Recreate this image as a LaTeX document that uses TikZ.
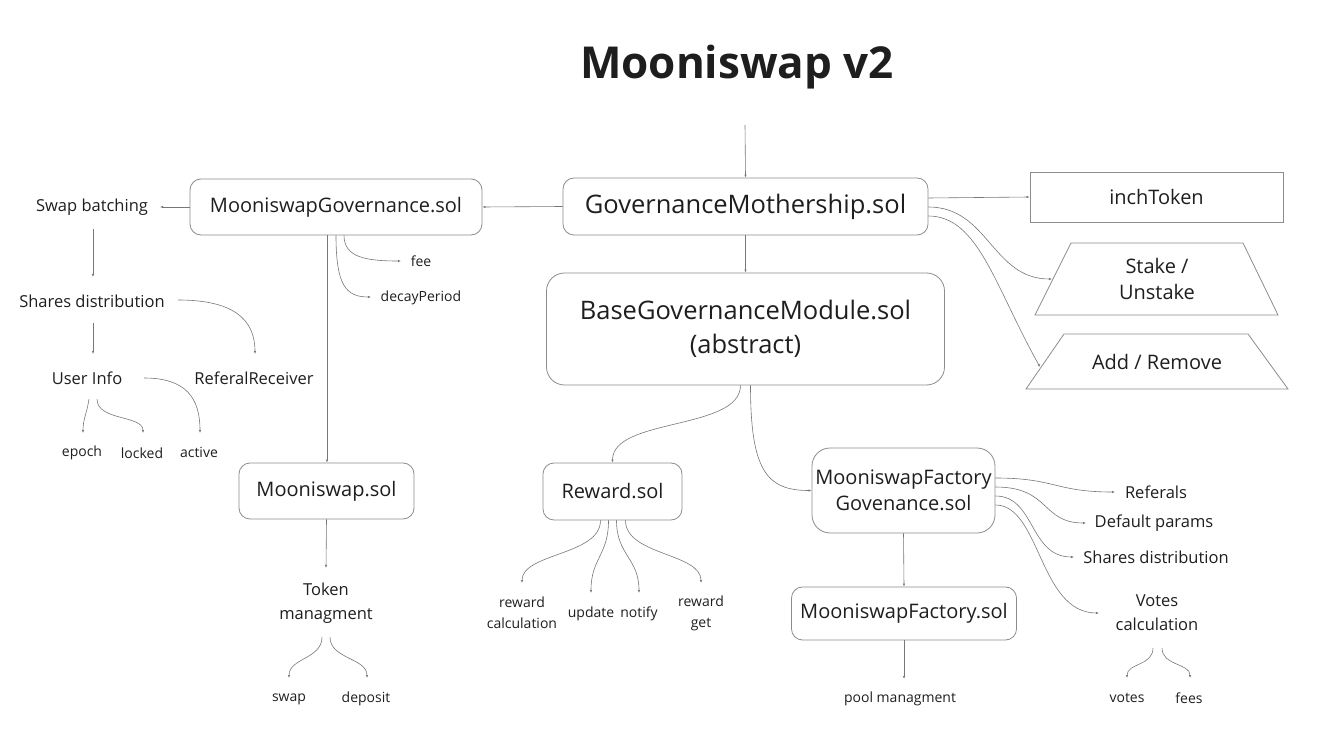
\documentclass[tikz,border=0pt]{standalone}
\usepackage{fontspec}
\setmainfont{Open Sans}
\usetikzlibrary{calc,arrows.meta}
\definecolor{ink}{HTML}{1E1E1E}
\definecolor{wire}{HTML}{777777}
\definecolor{frame}{HTML}{8C8C8C}
\def\titlefont{\fontsize{44}{54}\selectfont\bfseries}
\def\hugefont{\fontsize{25.5}{34}\selectfont}
\def\boxfont{\fontsize{20}{26.5}\selectfont}
\def\midfont{\fontsize{16.5}{24}\selectfont}
\def\leaffont{\fontsize{14}{21}\selectfont}
\tikzset{
	box/.style={draw=frame, line width=0.8pt, rounded corners=11pt, inner sep=0pt, text=ink, align=center},
	lbl/.style={inner sep=0pt, text=ink, align=center},
	trap/.style={draw=frame, line width=0.8pt},
	arr/.style={draw=wire, line width=0.6pt, -{Latex[length=3pt,width=2.4pt]}}
}
\begin{document}
\begin{tikzpicture}[x=1pt,y=-1pt]
			%%%%% START %%%%%
			\useasboundingbox (0,0) rectangle (1330,751);
			
			\node[lbl, font=\titlefont] (title) at (737, 67) {Mooniswap v2};
			\coordinate (top) at (745, 125);
			
			% main contracts
			\node[box, font=\hugefont, minimum width=365, minimum height=57] (gm) at (745.5, 206.5) {GovernanceMothership.sol};
			\node[box, font=\boxfont, minimum width=292, minimum height=56] (mg) at (336, 207) {MooniswapGovernance.sol};
			\node[box, font=\hugefont, minimum width=398, minimum height=112, rounded corners=18pt] (bg) at (745.5, 329) {BaseGovernanceModule.sol\\(abstract)};
			\node[box, font=\boxfont, minimum width=175, minimum height=56] (ms) at (326.5, 491) {Mooniswap.sol};
			\node[box, font=\boxfont, minimum width=139, minimum height=57] (rw) at (612.5, 491.5) {Reward.sol};
			\node[box, font=\boxfont, minimum width=183, minimum height=85, rounded corners=18pt] (mfg) at (903.5, 490.5) {MooniswapFactory\\Govenance.sol};
			\node[box, font=\boxfont, minimum width=225, minimum height=53] (mf) at (904, 613.5) {MooniswapFactory.sol};
			
			\node[box, font=\boxfont, rounded corners=0pt, minimum width=253, minimum height=50] (it) at (1156.5, 197) {inchToken};
			\draw[trap] (1071, 243) -- (1243, 243) -- (1278, 315) -- (1035, 315) -- cycle;
			\node[lbl, font=\boxfont] (st) at (1157, 279) {Stake /\\Unstake};
			\draw[trap] (1064, 334) -- (1248, 334) -- (1288, 389) -- (1026, 389) -- cycle;
			\node[lbl, font=\boxfont] (ad) at (1157, 362) {Add / Remove};
			
			% left branch
			\node[lbl, font=\midfont] (sb) at (92, 207) {Swap batching};
			\node[lbl, font=\midfont] (sd) at (92, 301) {Shares distribution};
			\node[lbl, font=\midfont] (ui) at (87, 378) {User Info};
			\node[lbl, font=\midfont] (rr) at (254, 378) {ReferalReceiver};
			\node[lbl, font=\leaffont] (ep) at (82, 453) {epoch};
			\node[lbl, font=\leaffont] (lk) at (142, 453) {locked};
			\node[lbl, font=\leaffont] (ac) at (199, 452) {active};
			\node[lbl, font=\leaffont] (fee) at (421, 261) {fee};
			\node[lbl, font=\leaffont] (dp) at (421, 298) {decayPeriod};
			\node[lbl, font=\midfont] (tm) at (326, 603) {Token\\managment};
			\node[lbl, font=\leaffont] (sw) at (289, 699) {swap};
			\node[lbl, font=\leaffont] (de) at (366, 699) {deposit};
			
			% reward leaves
			\node[lbl, font=\leaffont] (rc) at (522, 613) {reward\\calculation};
			\node[lbl, font=\leaffont] (up) at (591, 614) {update};
			\node[lbl, font=\leaffont] (nt) at (639, 614) {notify};
			\node[lbl, font=\leaffont] (rg) at (701, 613) {reward\\get};
			
			% factory leaves
			\node[lbl, font=\midfont] (re) at (1156, 492) {Referals};
			\node[lbl, font=\midfont] (dfp) at (1154, 523) {Default params};
			\node[lbl, font=\midfont] (sd2) at (1156, 557) {Shares distribution};
			\node[lbl, font=\midfont] (vc) at (1157, 613) {Votes\\calculation};
			\node[lbl, font=\leaffont] (vo) at (1127, 698) {votes};
			\node[lbl, font=\leaffont] (fs) at (1189, 698) {fees};
			\node[lbl, font=\leaffont] (pm) at (900, 699) {pool managment};
			
			% connectors
			\draw[arr] (top) -- (gm.north);
			\draw[arr] (gm.west) -- (mg.east);
			\draw[arr] (mg.west) -- ($(sb)+(68,0)$);
			\draw[arr] ($(sb)+(1,22)$) -- ($(sd)+(1,-24)$);
			\draw[arr] ($(sd)+(1,22)$) -- ($(ui)+(6,-24)$);
			\draw[arr] ($(sd)+(86,-1)$) .. controls +(55,0) and +(0,-35) .. ($(rr)+(1,-24)$);
			\draw[arr] ($(ui)+(2,21)$) .. controls +(-2,14) and +(0,-14) .. ($(ep)+(1,-20)$);
			\draw[arr] ($(ui)+(10,21)$) .. controls +(0,22) and +(0,-18) .. ($(lk)+(1,-20)$);
			\draw[arr] ($(ui)+(57,0)$) .. controls +(42,0) and +(0,-35) .. ($(ac)+(1,-19)$);
			\draw[arr] ($(mg.south)+(8,0)$) .. controls +(0,22) and +(-35,0) .. ($(fee)+(-20,0)$);
			\draw[arr] (mg.south) .. controls +(0,50) and +(-25,0) .. ($(dp)+(-50,-1)$);
			\draw[arr] ($(mg.south)+(-9,0)$) -- ($(ms.north)+(0.5,0)$);
			\draw[arr] (ms.south) -- ($(tm)+(0,-35)$);
			\draw[arr] ($(tm)+(-4,34)$) .. controls +(0,22) and +(0,-20) .. ($(sw)+(0,-21)$);
			\draw[arr] ($(tm)+(4,34)$) .. controls +(0,22) and +(0,-20) .. ($(de)+(1,-21)$);
			
			\draw[arr] (gm.south) -- (bg.north);
			\draw[arr] ($(gm.east)+(0,-8.5)$) -- (it.west);
			\draw[arr] ($(gm.east)+(0,0.5)$) .. controls +(60,0) and +(-60,0) .. ($(st)+(-105,0)$);
			\draw[arr] ($(gm.east)+(0,9.5)$) .. controls +(50,0) and +(-45,-80) .. ($(ad)+(-117,5)$);
			
			\draw[arr] ($(bg.south)+(-5,0)$) .. controls +(0,45) and +(0,-45) .. (rw.north);
			\draw[arr] ($(bg.south)+(5,0)$) .. controls +(0,85) and +(-45,0) .. (mfg.west);
			\draw[arr] ($(rw.south)+(-12,0)$) .. controls +(0,35) and +(0,-30) .. ($(rc)+(0,-30)$);
			\draw[arr] ($(rw.south)+(-4,0)$) .. controls +(0,35) and +(0,-35) .. ($(up)+(0,-21)$);
			\draw[arr] ($(rw.south)+(4,0)$) .. controls +(0,35) and +(0,-35) .. ($(nt)+(0,-21)$);
			\draw[arr] ($(rw.south)+(13,0)$) .. controls +(0,35) and +(0,-30) .. ($(rg)+(0,-30)$);
			
			\draw[arr] ($(mfg.east)+(0,-12.5)$) .. controls +(60,0) and +(-60,0) .. ($(re)+(-41,0)$);
			\draw[arr] ($(mfg.east)+(0,-3.5)$) .. controls +(55,0) and +(-45,0) .. ($(dfp)+(-68,0)$);
			\draw[arr] ($(mfg.east)+(0,5.5)$) .. controls +(40,0) and +(-45,0) .. ($(sd2)+(-82,0)$);
			\draw[arr] ($(mfg.east)+(0,14.5)$) .. controls +(45,0) and +(-60,0) .. ($(vc)+(-58,0)$);
			\draw[arr] (mfg.south) -- (mf.north);
			\draw[arr] (mf.south) -- ($(pm)+(4,-20)$);
			\draw[arr] ($(vc)+(-4,35)$) .. controls +(0,18) and +(0,-15) .. ($(vo)+(0,-20)$);
			\draw[arr] ($(vc)+(5,35)$) .. controls +(0,18) and +(0,-15) .. ($(fs)+(1,-20)$);
			
			%%%%% END %%%%%
\end{tikzpicture}
\end{document}
